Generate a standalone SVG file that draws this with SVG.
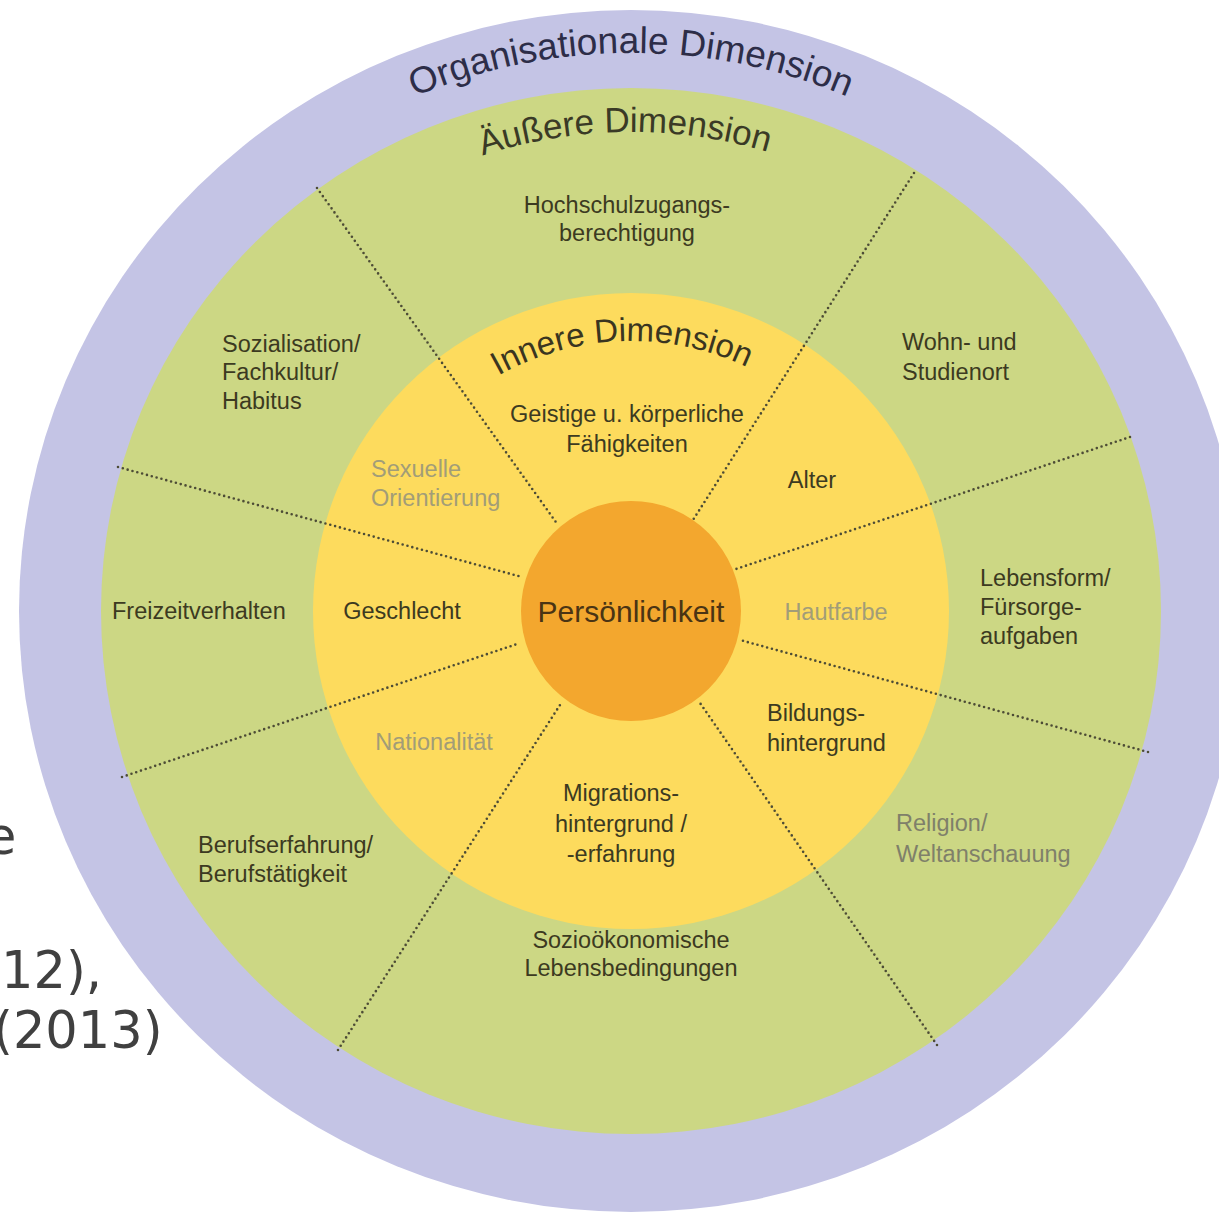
<svg xmlns="http://www.w3.org/2000/svg" width="1219" height="1215" viewBox="0 0 1219 1215">
<defs>
<style>
.lbl{font-family:"Liberation Sans",Arial,sans-serif;font-size:23.5px;fill:#3c3a21}
.c{text-anchor:middle}
.muted{fill:#a29d78}
.muted2{fill:#7f806a}
.arc{font-family:"Liberation Sans",Arial,sans-serif;text-anchor:middle}
.dot{fill:none;stroke:#4d4c36;stroke-width:2.6;stroke-linecap:round;stroke-dasharray:0 5}
.side{font-family:"DejaVu Sans",Verdana,sans-serif;font-size:51px;fill:#404040}
</style>
<path id="arcOrg" d="M 73 611 A 558 558 0 0 1 1189 611"/>
<path id="arcAus" d="M 152 611 A 479 479 0 0 1 1110 611"/>
<path id="arcInn" d="M 361 611 A 270 270 0 0 1 901 611"/>
</defs>
<rect width="1219" height="1215" fill="#ffffff"/>
<g id="side-text" class="side">
<text x="-15" y="854">e</text>
<text x="1" y="988">12),</text>
<text x="-7" y="1048">(2013)</text>
</g>
<g id="organisationale-dimension">
<ellipse cx="631" cy="611" rx="612" ry="601" fill="#c4c4e5"/>
<text class="arc" font-size="37" fill="#2d2d48"><textPath href="#arcOrg" startOffset="50%">Organisationale Dimension</textPath></text>
</g>
<g id="aeussere-dimension">
<ellipse cx="631" cy="611" rx="530" ry="523" fill="#ccd784"/>
<text class="arc" font-size="35" fill="#3a3a26"><textPath href="#arcAus" startOffset="49.6%">Äußere Dimension</textPath></text>
</g>
<g id="innere-dimension">
<circle cx="631" cy="611" r="318" fill="#fddb5d"/>
<text class="arc" font-size="33" fill="#3a3520"><textPath href="#arcInn" startOffset="48.9%">Innere Dimension</textPath></text>
</g>
<g id="connectors">
<line class="dot" x1="317" y1="188" x2="558" y2="525"/>
<line class="dot" x1="914" y1="173" x2="693" y2="520"/>
<line class="dot" x1="1130" y1="437" x2="733" y2="570"/>
<line class="dot" x1="1148" y1="752" x2="740" y2="640"/>
<line class="dot" x1="937" y1="1045" x2="700" y2="703"/>
<line class="dot" x1="338" y1="1050" x2="560" y2="705"/>
<line class="dot" x1="122" y1="777" x2="520" y2="643"/>
<line class="dot" x1="118" y1="467" x2="522" y2="577"/>
</g>
<g id="persoenlichkeit">
<circle cx="631" cy="611" r="110" fill="#f3a72e"/>
<text class="c" x="631" y="622" style="font-family:'Liberation Sans',Arial,sans-serif;font-size:30px;fill:#4a3414">Persönlichkeit</text>
</g>
<g id="hochschulzugangsberechtigung" class="lbl c"><text x="627" y="213">Hochschulzugangs-</text><text x="627" y="241">berechtigung</text></g>
<g id="sozialisation" class="lbl"><text x="222" y="352">Sozialisation/</text><text x="222" y="380">Fachkultur/</text><text x="222" y="409">Habitus</text></g>
<g id="wohnort" class="lbl"><text x="902" y="350">Wohn- und</text><text x="902" y="380">Studienort</text></g>
<g id="lebensform" class="lbl"><text x="980" y="586">Lebensform/</text><text x="980" y="615">Fürsorge-</text><text x="980" y="644">aufgaben</text></g>
<g id="freizeitverhalten" class="lbl"><text x="112" y="619">Freizeitverhalten</text></g>
<g id="religion" class="lbl muted2"><text x="896" y="831">Religion/</text><text x="896" y="862">Weltanschauung</text></g>
<g id="berufserfahrung" class="lbl"><text x="198" y="853">Berufserfahrung/</text><text x="198" y="882">Berufstätigkeit</text></g>
<g id="soziooekonomische" class="lbl c"><text x="631" y="948">Sozioökonomische</text><text x="631" y="976">Lebensbedingungen</text></g>
<g id="faehigkeiten" class="lbl c"><text x="627" y="422">Geistige u. körperliche</text><text x="627" y="452">Fähigkeiten</text></g>
<g id="sexuelle-orientierung" class="lbl muted"><text x="371" y="477">Sexuelle</text><text x="371" y="506">Orientierung</text></g>
<g id="alter" class="lbl c"><text x="812" y="488">Alter</text></g>
<g id="geschlecht" class="lbl c"><text x="402" y="619">Geschlecht</text></g>
<g id="hautfarbe" class="lbl c muted"><text x="836" y="620">Hautfarbe</text></g>
<g id="bildungshintergrund" class="lbl"><text x="767" y="721">Bildungs-</text><text x="767" y="751">hintergrund</text></g>
<g id="nationalitaet" class="lbl c muted"><text x="434" y="750">Nationalität</text></g>
<g id="migrationshintergrund" class="lbl c"><text x="621" y="801">Migrations-</text><text x="621" y="832">hintergrund /</text><text x="621" y="862">-erfahrung</text></g>
</svg>
